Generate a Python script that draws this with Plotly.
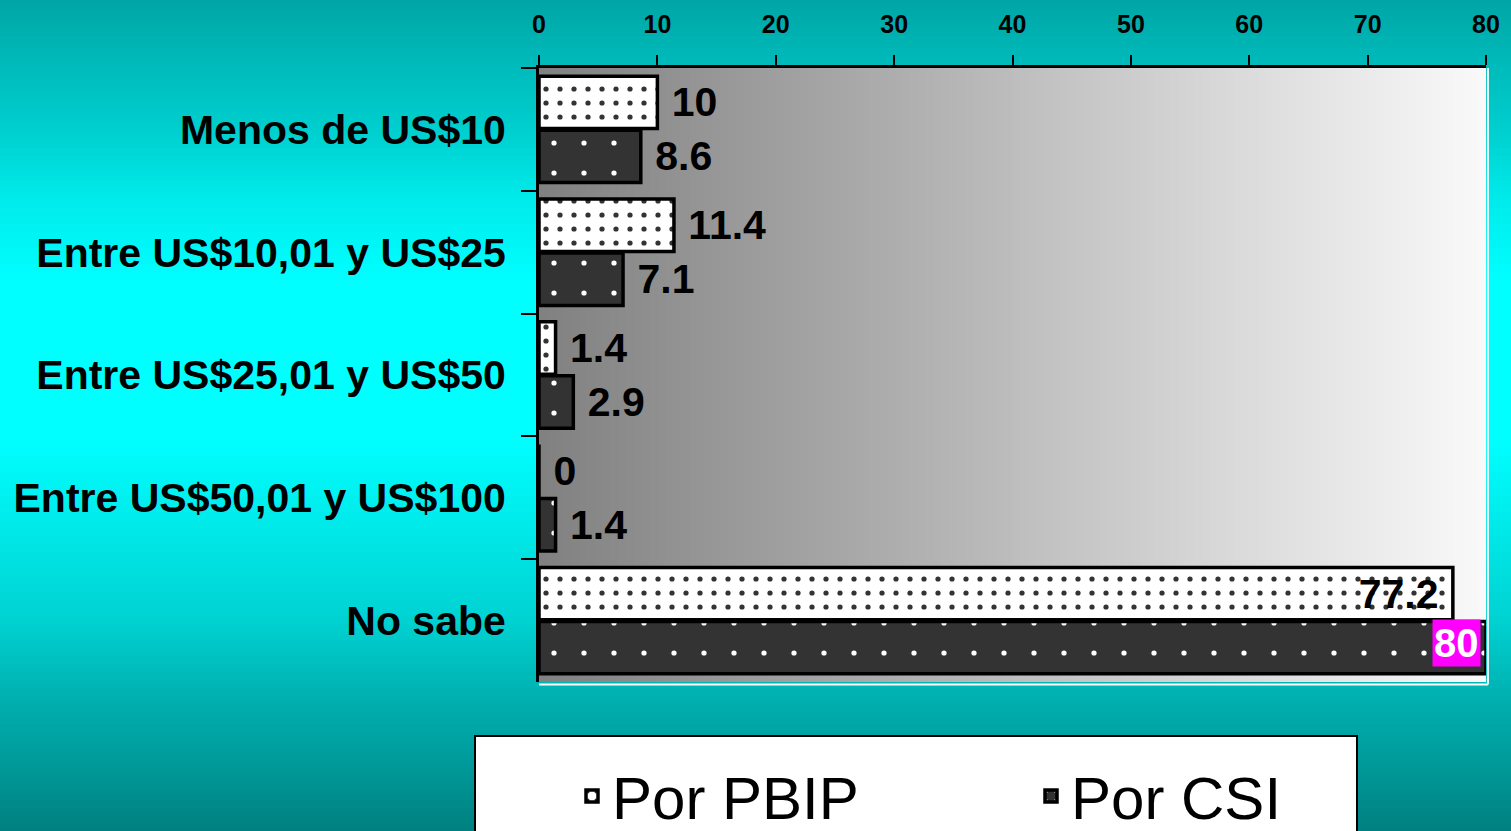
import plotly.graph_objects as go

# ---------------- data ----------------
categories = ["Menos de US$10", "Entre US$10,01 y US$25", "Entre US$25,01 y US$50",
              "Entre US$50,01 y US$100", "No sabe"]
pbip = [10, 11.4, 1.4, 0, 77.2]
csi = [8.6, 7.1, 2.9, 1.4, 80]
series_names = ["Por PBIP", "Por CSI"]
x_ticks = [0, 10, 20, 30, 40, 50, 60, 70, 80]

# ---------------- layout geometry ----------------
W, H = 1511, 831
L, R, T, B = 539, 25, 68, 149
PW = W - L - R
PH = H - T - B


def py2p(py):
    return (H - B - py) / PH


def px2p(px):
    return (px - L) / PW


def fmt(v):
    return f"{v:g}"


FONT = "Liberation Sans, Arial, sans-serif"
NB = "\u00a0"

shapes = []

# vertical cyan background gradient
stops = [(0, 165), (60, 185), (126, 205), (200, 235), (280, 255), (440, 255),
         (500, 240), (620, 210), (700, 175), (760, 155), (831, 128)]


def bg_val(py):
    for (a, va), (b, vb) in zip(stops[:-1], stops[1:]):
        if a <= py <= b:
            return va + (vb - va) * (py - a) / (b - a)
    return stops[-1][1]


step = 4
for py in range(0, H, step):
    v = int(round(bg_val(py + step / 2)))
    shapes.append(dict(type="rect", xref="paper", yref="paper",
                       x0=px2p(-5), x1=px2p(W + 5), y0=py2p(py + step + 1.5), y1=py2p(py),
                       fillcolor=f"rgb(0,{v},{v})", line=dict(width=0), layer="below"))

# horizontal grey gradient in plot area
N = 120
xmax = x_ticks[-1]
for i in range(N):
    v = int(round(128 + (250 - 128) * (i + 0.5) / N))
    shapes.append(dict(type="rect", xref="x", yref="paper",
                       x0=xmax * i / N, x1=min(xmax, xmax * (i + 1.6) / N), y0=0, y1=1,
                       fillcolor=f"rgb({v},{v},{v})", line=dict(width=0), layer="below"))

# light border right/bottom of plot area
shapes.append(dict(type="line", xref="paper", yref="paper", x0=1.002, x1=1.002, y0=-0.004, y1=1,
                   line=dict(color="white", width=2), layer="below"))
shapes.append(dict(type="line", xref="paper", yref="paper", x0=0, x1=1.002, y0=-0.004, y1=-0.004,
                   line=dict(color="white", width=2), layer="below"))

# legend box
shapes.append(dict(type="rect", xref="paper", yref="paper",
                   x0=px2p(475), x1=px2p(1357), y0=py2p(850), y1=py2p(736),
                   fillcolor="white", line=dict(color="black", width=2), layer="above"))

# ---------------- traces ----------------
pb_text = [NB + fmt(v) for v in pbip[:-1]] + [fmt(pbip[-1]) + NB]
pb_pos = ["outside"] * (len(pbip) - 1) + ["inside"]
cs_text = [NB + fmt(v) for v in csi[:-1]] + [""]
cs_pos = ["outside"] * (len(csi) - 1) + ["inside"]

fig = go.Figure()
fig.add_trace(go.Bar(
    name=series_names[0], y=categories, x=pbip, orientation="h",
    marker=dict(color="white", line=dict(color="black", width=3.5),
                pattern=dict(shape=".", fgcolor="#333333", bgcolor="white",
                             size=14, solidity=0.11, fillmode="replace")),
    text=pb_text, textposition=pb_pos, constraintext="none", cliponaxis=False,
    textfont=dict(family=FONT, size=41, color="black", weight="bold"),
    insidetextanchor="end", hoverinfo="x+y",
))
fig.add_trace(go.Bar(
    name=series_names[1], y=categories, x=csi, orientation="h",
    marker=dict(color="#333333", line=dict(color="black", width=3.5),
                pattern=dict(shape=".", fgcolor="white", bgcolor="#333333",
                             size=30, solidity=0.024, fillmode="replace")),
    text=cs_text, textposition=cs_pos, constraintext="none", cliponaxis=False,
    textfont=dict(family=FONT, size=41, color="black", weight="bold"),
    hoverinfo="x+y",
))

annotations = [dict(x=csi[-1], y=categories[-1], xref="x", yref="y",
                    text=fmt(csi[-1]), showarrow=False, xanchor="right", yanchor="middle",
                    xshift=-5, yshift=-22, bgcolor="#FF00FF", borderpad=1,
                    font=dict(family=FONT, size=40, color="white", weight="bold"))]

fig.update_layout(
    width=W, height=H,
    margin=dict(l=L, r=R, t=T, b=B, pad=0, autoexpand=False),
    paper_bgcolor="rgb(0,170,170)", plot_bgcolor="rgba(0,0,0,0)",
    barmode="group", bargap=0.12, bargroupgap=0.03,
    shapes=shapes, annotations=annotations,
    showlegend=True,
    legend=dict(orientation="h", x=px2p(572), xanchor="left", y=py2p(796), yanchor="middle",
                bgcolor="rgba(0,0,0,0)", borderwidth=0, traceorder="normal",
                entrywidth=414, entrywidthmode="pixels",
                font=dict(family=FONT, size=60, color="black")),
    xaxis=dict(side="top", range=[0, xmax], tickvals=x_ticks, ticks="outside", ticklen=10,
               tickwidth=2, tickcolor="black", showline=True, linecolor="black", linewidth=3,
               showgrid=False, zeroline=False, ticklabelstandoff=12,
               tickfont=dict(family=FONT, size=25, color="black", weight="bold")),
    yaxis=dict(type="category", autorange="reversed", ticks="outside", tickson="boundaries",
               ticklen=15, tickwidth=2, tickcolor="black", showline=True, linecolor="black",
               linewidth=3, showgrid=False, zeroline=False, ticklabelstandoff=22,
               tickfont=dict(family=FONT, size=41, color="black", weight="bold")),
)

fig.write_html("out.html")
